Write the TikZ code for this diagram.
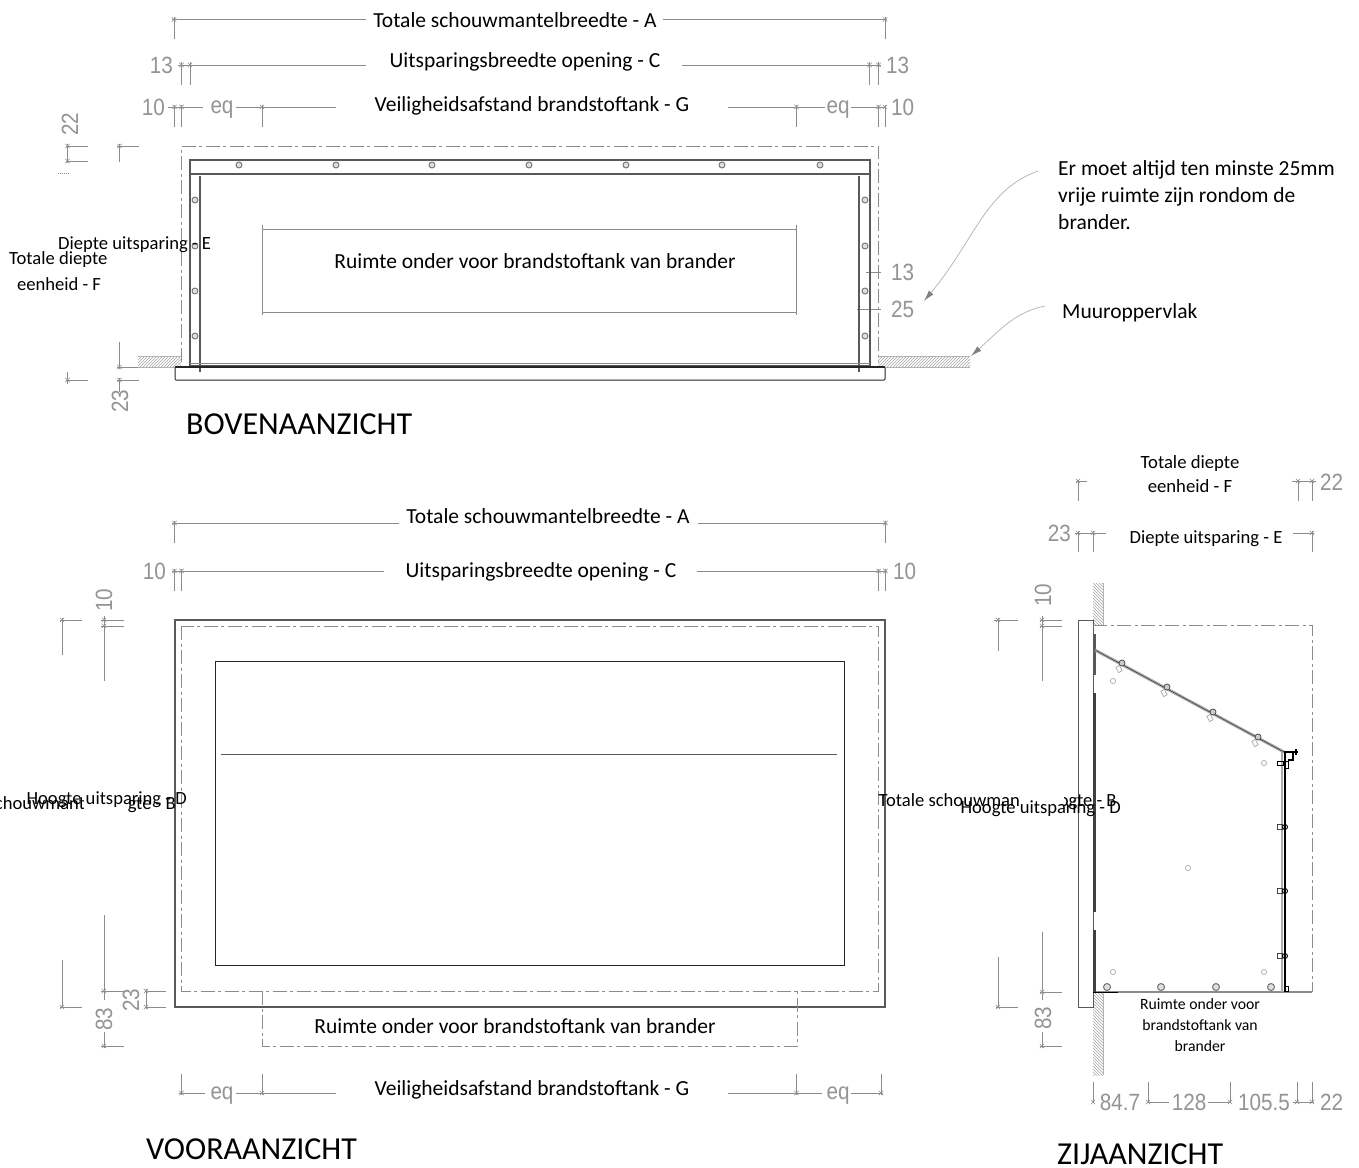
\documentclass[tikz,border=0pt]{standalone}
\usepackage{fontspec}
\setmainfont{Carlito}
\newfontfamily\dimfont[FakeStretch=0.88]{Liberation Sans}
\usetikzlibrary{patterns,arrows.meta}
\definecolor{dimgray}{gray}{0.55}
\definecolor{numgray}{gray}{0.58}
\definecolor{wallgray}{gray}{0.35}
\tikzset{
  x=1pt,y=-1pt,
  dimline/.style={draw=dimgray,line width=0.9pt},
  ddot/.style={draw=dimgray,line width=1pt,dash pattern=on 14pt off 3.5pt on 3pt off 3.5pt},
  wall/.style={draw=wallgray,line width=1.1pt},
  blk/.style={draw=black!85,line width=1pt},
  hatchbox/.style={pattern=north east lines,pattern color=gray!70,draw=none},
  hatchboxb/.style={pattern=north west lines,pattern color=gray!70,draw=none},
  lab/.style={font=\fontsize{21.5}{24}\selectfont,text=black,inner sep=0pt},
  smalllab/.style={font=\fontsize{18.6}{20}\selectfont,text=black,inner sep=0pt},
  sidelab/.style={font=\fontsize{15.7}{21}\selectfont,text=black,inner sep=0pt,align=center},
  title/.style={font=\fontsize{32}{34}\selectfont,text=black,inner sep=0pt},
  num/.style={font=\dimfont\fontsize{23.5}{24}\selectfont,text=numgray,inner sep=0pt},
  screw/.style={draw=gray!90!black,line width=0.9pt,fill=gray!25},
  lscrew/.style={draw=gray!60,line width=0.8pt,fill=white},
  leader/.style={draw=gray!60,line width=0.7pt,-{Latex[length=11pt,width=6pt,color=gray]}}
}
\newcommand{\mk}[2]{\draw[dimline,line width=0.6pt] (#1-2.2,#2-2.2) -- (#1+2.2,#2+2.2) (#1-2.2,#2+2.2) -- (#1+2.2,#2-2.2);}
\begin{document}
\begin{tikzpicture}
\clip (0,0) rectangle (1359,1167);
\fill[white] (0,0) rectangle (1359,1167);

%% ============ BOVENAANZICHT ============
\foreach \a/\b/\c/\d in {172/19.5/366/19.5, 663/19.5/887/19.5, 174.5/17/174.5/39, 885.5/17/885.5/39,
  178/65/366/65, 682/65/881/65, 181.5/62/181.5/85, 190/62/190/85, 869.5/62/869.5/85, 878.5/62/878.5/85,
  168/107/203/107, 236/107/336/107, 174.5/105/174.5/127, 181.5/105/181.5/127, 262/105/262/127,
  728/107/825/107, 851/107/885/107, 796.5/105/796.5/127, 878.5/105/878.5/127, 885.5/105/885.5/127,
  67.5/144/67.5/163, 66/146/88/146, 66/161/88/161, 119.5/144/119.5/162, 117/146/139/146,
  119.5/342/119.5/369, 117/367/139/367, 117/380/139/380, 119.5/378/119.5/392, 66/380/88/380, 67.5/372/67.5/384,
  866/272/881/272, 857/309/881/309}
  {\draw[dimline] (\a,\b) -- (\c,\d);}
\foreach \p/\q in {174/19.5,885/19.5,181.5/65,190/65,869.5/65,878.5/65,174.5/107,181.5/107,262/107,796.5/107,878.5/107,885/107,67.5/146,67.5/161,119.5/146,119.5/367,119.5/380,67.5/380}{\mk{\p}{\q}}
\draw[dimline,densely dotted] (58,173) -- (68,173);
\draw[ddot] (181.5,362) -- (181.5,146) -- (878.5,146) -- (878.5,362);
% tank outline
\draw[dimline] (262.5,225) -- (262.5,315) (796.5,225) -- (796.5,315);
\draw[dimline] (262.5,229) -- (796.5,229) (262.5,312) -- (796.5,312);
% hatch
\path[hatchbox] (138,356) rectangle (181,367);
\path[hatchbox] (878,356) rectangle (970,367);
\draw[draw=gray!60,line width=0.5pt] (138,356) -- (181,356) (878,356) -- (970,356) (878,367) -- (970,367) (138,367) -- (181,367);
% walls
\draw[wall] (190,367) -- (190,160) -- (870,160) -- (870,367);
\draw[wall] (190,174) -- (870,174);
\draw[wall] (200,176) -- (200,372);
\draw[wall] (859,176) -- (859,372);
\draw[dimline] (190,363.5) -- (870,363.5);
\draw[wall,line width=1.3pt] (190,366) -- (870,366);
\draw[blk,rounded corners=1pt] (181,367) -- (175,367) -- (175,380) -- (885,380) -- (885,367) -- (870,367);
\draw[blk,line width=1.5pt] (175,367) -- (885,367);
\foreach \xx in {239,336,432,529,626,722,820}{\draw[screw] (\xx,165) circle (3);}
\foreach \yy in {200,246,291,336}{\draw[screw] (195,\yy) circle (3); \draw[screw] (865,\yy) circle (3);}

\node[num,anchor=east] (n13a) at (173,65) {13};
\node[num,anchor=west] (n13b) at (886,65) {13};
\node[num,anchor=east] (n10a) at (165,107) {10};
\node[num,anchor=west] (n10b) at (891,107) {10};
\node[num] (eq1) at (222,110) {eq};
\node[num] (eq2) at (838,110) {eq};
\node[num,rotate=90] (n22a) at (70,124) {22};
\node[num,rotate=90] (n23a) at (120,401) {23};
\node[num,anchor=west] (n13c) at (891,272) {13};
\node[num,anchor=west] (n25a) at (891,309) {25};

\node[lab] (ta1) at (515,20) {Totale schouwmantelbreedte - A};
\node[lab] (tc1) at (525,61.5) {Uitsparingsbreedte opening - C};
\node[lab] (tg1) at (532,106) {Veiligheidsafstand brandstoftank - G};
\node[lab] (tr1) at (535,261.5) {Ruimte onder voor brandstoftank van brander};
\begin{scope}
\clip (0,245) rectangle (107,275);
\node[smalllab,anchor=west] (tf1a) at (9,260) {Totale diepte};
\end{scope}
\node[smalllab] (tf1b) at (59,284) {eenheid - F};
\node[smalllab,anchor=west] (te1) at (58,245) {Diepte uitsparing - E};
\node[lab,anchor=north west,align=left,font=\fontsize{21.5}{27}\selectfont] (note1) at (1058,160) {Er moet altijd ten minste 25mm\\vrije ruimte zijn rondom de\\brander.};
\node[lab,anchor=west] (note2) at (1062,313) {Muuroppervlak};
\node[title,anchor=west] (tt1) at (186,424) {BOVENAANZICHT};
\coordinate (l1s) at (1038,171);
\coordinate (l1e) at (924,301);
\coordinate (l2s) at (1045,306);
\coordinate (l2e) at (971,356);
\draw[leader] (l1s) .. controls (985,190) and (975,240) .. (l1e);
\draw[leader] (l2s) .. controls (1015,312) and (1000,330) .. (l2e);

%% ============ VOORAANZICHT ============
\foreach \a/\b/\c/\d in {172/523/399/523, 698/523/887/523, 174.5/521/174.5/543, 885.5/521/885.5/543,
  172/571/384/571, 697/571/887/571, 174.5/569/174.5/591, 181.5/569/181.5/591, 878.5/569/878.5/591, 885.5/569/885.5/591,
  60/620/82/620, 62/618/62/655, 101/620/124/620, 101/626/124/626, 104/616/104/681,
  62/960/62/1008, 60/1007/82/1007, 104/915/104/1000, 101/991/124/991, 101/1046/124/1046, 104/1032/104/1048,
  146/989/146/1009, 145/991/166/991, 145/1007/166/1007,
  181.5/1074/181.5/1095, 262/1074/262/1095, 796.5/1074/796.5/1095, 881/1074/881/1095,
  179/1093/205/1093, 236/1093/336/1093, 728/1093/822/1093, 851/1093/883/1093}
  {\draw[dimline] (\a,\b) -- (\c,\d);}
\foreach \p/\q in {174.5/523,885.5/523,174.5/571,181.5/571,878.5/571,885.5/571,62/620,104/620,104/626,62/1007,104/991,104/1046,146/991,146/1007,181.5/1093,262/1093,796.5/1093,881/1093}{\mk{\p}{\q}}
\draw[wall] (175,620) rectangle (885,1007);
\draw[ddot] (181.5,626) rectangle (878.5,991);
\draw[blk] (215,661) rectangle (844,965);
\draw[wall,line width=1pt] (221,754) -- (837,754);
\draw[ddot] (262.5,991) -- (262.5,1046) -- (797,1046) -- (797,991);

\node[num,anchor=east] (n10c) at (166,571) {10};
\node[num,anchor=west] (n10d) at (893,571) {10};
\node[num,rotate=90] (n10e) at (104,600) {10};
\node[num,rotate=90] (n83a) at (104,1019) {83};
\node[num,rotate=90] (n23b) at (131,1000) {23};
\node[num] (eq3) at (222,1096) {eq};
\node[num] (eq4) at (838,1096) {eq};

\node[lab] (ta2) at (548,516.5) {Totale schouwmantelbreedte - A};
\node[lab] (tc2) at (541,572) {Uitsparingsbreedte opening - C};
\node[lab] (tr2) at (515,1026) {Ruimte onder voor brandstoftank van brander};
\node[lab] (tg2) at (532,1090) {Veiligheidsafstand brandstoftank - G};
\node[title,anchor=west] (tt2) at (146,1149) {VOORAANZICHT};
\node[smalllab,anchor=east] (tb2) at (176,805) {Totale schouwmantelhoogte - B};
\fill[white] (84,790) rectangle (128,815);
\node[smalllab,anchor=east] (td2) at (187,800) {Hoogte uitsparing - D};

%% ============ ZIJAANZICHT ============
\foreach \a/\b/\c/\d in {1078/480/1078/501, 1076/481/1087/481, 1298/480/1298/501, 1312/480/1312/501, 1292/481/1316/481,
  1078/531/1078/552, 1093/531/1093/552, 1075/533/1106/533, 1293/533/1314/533, 1312/531/1312/552,
  1040/620/1062/620, 1040/626/1062/626, 1042/616/1042/681, 994/620/1018/620, 998/618/998/651,
  998/957/998/1008, 996/1007/1018/1007, 1042/932/1042/1000, 1040/992/1062/992, 1040/1046/1062/1046, 1042/1032/1042/1048,
  1093/1082/1093/1103, 1148/1082/1148/1103, 1230/1082/1230/1103, 1297/1082/1297/1103, 1312/1082/1312/1103,
  1148/1102/1169/1102, 1208/1102/1230/1102, 1293/1102/1314/1102}
  {\draw[dimline] (\a,\b) -- (\c,\d);}
\foreach \p/\q in {1078/481,1298/481,1312/481,1078/533,1093/533,1312/533,1042/620,1042/626,998/620,998/1007,1042/992,1042/1046,1093/1102,1148/1102,1230/1102,1297/1102,1312/1102}{\mk{\p}{\q}}
\path[hatchboxb] (1093,583) rectangle (1103,625);
\path[hatchboxb] (1093,992) rectangle (1103,1075);
\draw[draw=gray!60,line width=0.5pt] (1103,583) -- (1103,625) (1103,992) -- (1103,1075);
\draw[wall,line width=1pt] (1093,620) -- (1078,620) -- (1078,1007) -- (1093,1007) -- (1093,620);
\draw[ddot] (1093,625) -- (1312,625) -- (1312,992);
\draw[dimline,line width=1.1pt] (1312,992) -- (1093,992);
\draw[wallgray,line width=3pt] (1094.5,634) -- (1094.5,675);
\draw[black!75,line width=3pt] (1094.5,693) -- (1094.5,912) (1094.5,930) -- (1094.5,992);
\draw[black,line width=1pt] (1093,992) -- (1118,992);
\draw[draw=gray!65,line width=3pt] (1095,650) -- (1284,752);
\draw[draw=gray!35!black,line width=0.5pt] (1095,650) -- (1284,752);
\draw[draw=gray!65,line width=2pt] (1282,752) -- (1282,992);
\draw[black,line width=1.8pt] (1285,752) -- (1285,992);
\foreach \xx/\yy in {1122/663,1167/687,1213/712,1258/737}{
  \draw[draw=gray!50!black,line width=0.7pt,fill=gray!40] (\xx,\yy) circle (3);
  \draw[draw=gray!70,line width=0.7pt,rotate around={-62:(\xx-3,\yy+6)}] (\xx-6,\yy+4) rectangle (\xx,\yy+8);
}
\foreach \yy in {827,891,956}{
  \draw[draw=gray!50!black,line width=0.9pt] (1277,\yy-2.5) rectangle (1282,\yy+2.5);
  \draw[draw=black,line width=0.9pt] (1285,\yy) circle (2.5);
}
\draw[black,line width=0.9pt] (1285,986) rectangle (1288,991);
\draw[black,line width=0.9pt] (1277,761) rectangle (1283,765);
\draw[black,line width=0.9pt] (1285,761) rectangle (1288,768);
\draw[black,line width=1.2pt] (1284,752) -- (1298,752) (1296,749) -- (1296,755) (1293,753) -- (1293,760) -- (1288,760);
\foreach \xx/\yy in {1113/681,1264/763,1188/868,1113/972,1264/972}{\draw[lscrew] (\xx,\yy) circle (2.6);}
\foreach \xx in {1107,1161,1216,1271}{\draw[screw,line width=1pt] (\xx,987) circle (3.5);}

\node[num,anchor=west] (n22b) at (1320,482) {22};
\node[num,anchor=east] (n23c) at (1071,533) {23};
\node[num,rotate=90] (n10f) at (1043,595) {10};
\node[num,rotate=90] (n83b) at (1043,1018) {83};
\node[num] (n847) at (1120,1102) {84.7};
\node[num] (n128) at (1189,1102) {128};
\node[num] (n105) at (1264,1102) {105.5};
\node[num,anchor=west] (n22c) at (1320,1102) {22};

\node[lab,align=center,font=\fontsize{18.7}{24}\selectfont] (tf3) at (1190,474) {Totale diepte\\eenheid - F};
\node[smalllab] (te3) at (1206,539) {Diepte uitsparing - E};
\node[sidelab] (tr3) at (1200,1025) {Ruimte onder voor\\brandstoftank van\\brander};
\node[title,anchor=west] (tt3) at (1057,1154) {ZIJAANZICHT};
\node[smalllab,anchor=west] (tb3) at (878.5,802) {Totale schouwmantelhoogte - B};
\fill[white] (1020,790) rectangle (1064,813);
\node[smalllab,anchor=east] (td3) at (1121,809) {Hoogte uitsparing - D};
\end{tikzpicture}
\end{document}
